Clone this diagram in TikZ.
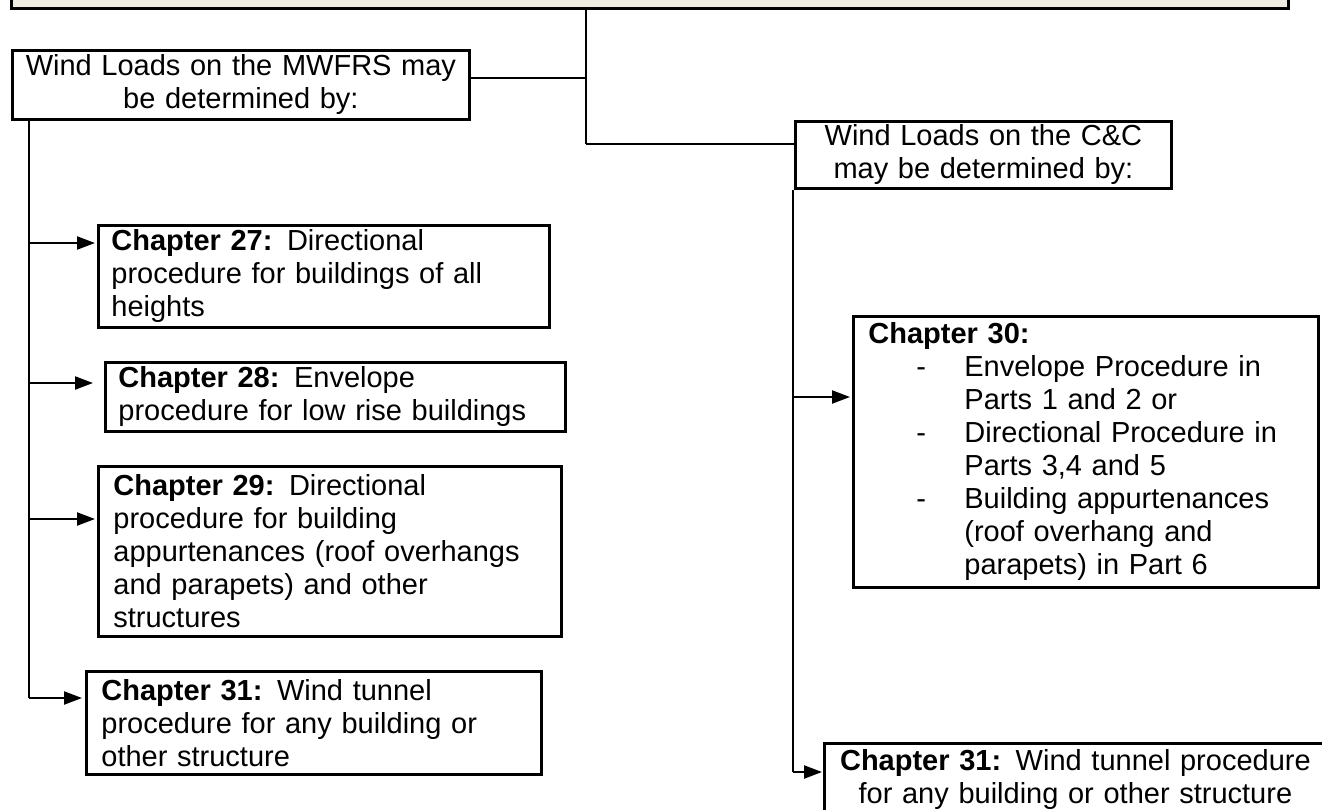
\documentclass[tikz,border=0pt]{standalone}
\usepackage{fontspec}
\setmainfont{Liberation Sans}
\usetikzlibrary{arrows.meta}
\definecolor{tanbg}{HTML}{EEECE1}
\begin{document}
\begin{tikzpicture}[x=0.5pt,y=-0.5pt,
  box/.style={draw=black, line width=1.4pt, inner xsep=0pt, inner ysep=0pt,
    anchor=north west, font=\fontsize{14.5}{16.5}\selectfont},
  conn/.style={line width=1.1pt},
  thinconn/.style={line width=0.9pt},
  arr/.style={line width=1.1pt, -{Triangle[length=9pt,width=6.5pt]}}]
\path[use as bounding box] (0,0) rectangle (1322,809);
\fill[white] (0,0) rectangle (1322,809);
\clip (0,0) rectangle (1322,809);

% top (cut-off) box
\node[box, fill=tanbg, minimum width=638.5pt, minimum height=33.5pt] (top) at (10,-60) {};

% level 1
\node[box, minimum width=228.5pt, minimum height=34.5pt, text width=218.5pt, align=center] (mw) at (11,49)
  {Wind Loads on the MWFRS may\\be determined by:};
\node[box, minimum width=188pt, minimum height=33.5pt, text width=178pt, align=center] (cc) at (794,120)
  {Wind Loads on the C\&C\\may be determined by:};

% MWFRS branch
\node[box, minimum width=225.5pt, minimum height=51pt, text width=212.5pt, align=left] (c27) at (97,224)
  {\textbf{Chapter 27:} Directional\\procedure for buildings of all\\heights};
\node[box, minimum width=230pt, minimum height=34.5pt, text width=217pt, align=left] (c28) at (104,361)
  {\textbf{Chapter 28:} Envelope\\procedure for low rise buildings};
\node[box, minimum width=231.5pt, minimum height=85pt, text width=216.5pt, align=left] (c29) at (97,465)
  {\textbf{Chapter 29:} Directional\\procedure for building\\appurtenances (roof overhangs\\and parapets) and other\\structures};
\node[box, minimum width=227.5pt, minimum height=51.5pt, text width=212.5pt, align=left] (c31l) at (85,670)
  {\textbf{Chapter 31:} Wind tunnel\\procedure for any building or\\other structure};

% C&C branch
\node[box, minimum width=232.5pt, minimum height=135.5pt, text width=217.5pt, align=left] (c30) at (852,315)
  {\textbf{Chapter 30:}\\
   \hspace*{24pt}\makebox[24pt][l]{-}Envelope Procedure in\\
   \hspace*{48pt}Parts 1 and 2 or\\
   \hspace*{24pt}\makebox[24pt][l]{-}Directional Procedure in\\
   \hspace*{48pt}Parts 3,4 and 5\\
   \hspace*{24pt}\makebox[24pt][l]{-}Building appurtenances\\
   \hspace*{48pt}(roof overhang and\\
   \hspace*{48pt}parapets) in Part 6};
\node[box, minimum width=251pt, minimum height=36pt, text width=241pt, align=center] (c31r) at (823,742)
  {\textbf{Chapter 31:} Wind tunnel procedure\\for any building or other structure};

% connectors from the top box
\coordinate (j1) at (586,78);
\coordinate (j2) at (586,144);
\draw[conn] (top.south -| j1) -- (j2);
\draw[thinconn] (j2) -- (j2 -| cc.west);
\draw[thinconn] (mw.east |- j1) -- (j1);

% left trunk
\coordinate (lb) at (29,698);
\coordinate (a27) at (29,243);
\coordinate (a28) at (29,383);
\coordinate (a29) at (29,519);
\draw[conn] (mw.south -| lb) -- (lb);
\draw[arr, shorten >=1pt] (a27) -- (a27 -| c27.west);
\draw[arr, shorten >=5.5pt] (a28) -- (a28 -| c28.west);
\draw[arr, shorten >=1pt] (a29) -- (a29 -| c29.west);
\draw[arr, shorten >=1.5pt] (lb) -- (lb -| c31l.west);

% right trunk
\coordinate (rb) at (793,772);
\coordinate (a30) at (793,397);
\draw[conn] (cc.south -| rb) -- (rb);
\draw[arr, shorten >=1pt] (a30) -- (a30 -| c30.west);
\draw[arr, shorten >=0.5pt] (rb) -- (rb -| c31r.west);
\end{tikzpicture}
\end{document}
